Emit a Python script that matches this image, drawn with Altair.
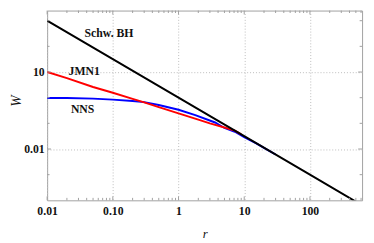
import altair as alt
import pandas as pd
import math

# ---- data ----
r_bh = [0.01, 0.1, 1, 10, 100, 622]
w_bh = [1000, 31.6, 1.0, 0.0316, 0.001, 6.4e-5]

r_jmn = [0.01, 0.02, 0.05, 0.1, 0.2, 0.3, 0.5, 1, 2, 3, 5, 7.2, 9]
w_jmn = [10, 5.8, 2.6, 1.55, 0.90, 0.66, 0.43, 0.245, 0.14, 0.10, 0.069, 0.052, 0.037]

r_nns = [0.01, 0.02, 0.05, 0.1, 0.2, 0.3, 0.5, 1, 1.8, 3.6, 5, 7.2, 10, 15, 20, 30]
w_nns = [0.98, 0.97, 0.92, 0.84, 0.74, 0.67, 0.52, 0.34, 0.21, 0.108, 0.066, 0.047,
         0.029, 0.0168, 0.0111, 0.0061]

label_text = ["Schw. BH", "JMN1", "NNS"]
label_r = [0.0875, 0.0367, 0.0347]
label_w = [316, 10.9, 0.345]

xtick_major = [0.01, 0.1, 1, 10, 100]
xtick_labels = ["0.01", "0.10", "1", "10", "100"]
xtick_minor = [0.02, 0.03, 0.04, 0.05, 0.06, 0.07, 0.08, 0.09,
               0.2, 0.3, 0.4, 0.5, 0.6, 0.7, 0.8, 0.9,
               2, 3, 4, 5, 6, 7, 8, 9,
               20, 30, 40, 50, 60, 70, 80, 90,
               200, 300, 400, 500, 600]
ytick_major = [10, 0.01]
ytick_labels = ["10", "0.01"]
ytick_minor = [1000, 100, 1, 0.1, 0.001]

W, H = 322, 194
xscale = alt.Scale(type="log", domain=[0.01, 622], nice=False)
yscale = alt.Scale(type="log", domain=[1e-4, 2480], nice=False)

FONT = "Liberation Serif"
FRAME = "#a0a0a0"


def label_expr(vals, labs):
    expr = "'%s'" % labs[-1]
    for i in range(len(vals) - 2, -1, -1):
        mid = math.sqrt(vals[i] * vals[i + 1])
        if vals[i] < vals[i + 1]:
            expr = "datum.value < %g ? '%s' : (%s)" % (mid, labs[i], expr)
        else:
            expr = "datum.value > %g ? '%s' : (%s)" % (mid, labs[i], expr)
    return expr


xaxis = alt.Axis(values=xtick_major, labelExpr=label_expr(xtick_major, xtick_labels),
                 grid=True, gridDash=[1, 2], gridColor="#bbbbbb", gridWidth=1,
                 ticks=False, tickSize=0, domain=False,
                 labelFont=FONT, labelFontWeight="bold", labelFontSize=12, labelColor="#111111",
                 labelPadding=5, labelFlush=False,
                 title="r", titleFont=FONT, titleFontStyle="italic", titleFontWeight="normal",
                 titleFontSize=13, titleColor="#111111", titleY=34, titleBaseline="middle")
yaxis = alt.Axis(values=ytick_major, labelExpr=label_expr(ytick_major, ytick_labels),
                 grid=True, gridDash=[1, 2], gridColor="#bbbbbb", gridWidth=1,
                 ticks=False, tickSize=0, domain=False,
                 labelFont=FONT, labelFontWeight="bold", labelFontSize=12, labelColor="#111111",
                 labelPadding=3, labelFlush=False,
                 title="W", titleFont=FONT, titleFontStyle="italic", titleFontWeight="normal",
                 titleFontSize=14, titleColor="#111111", titleAngle=270,
                 titleX=-31, titleY=92, titleAlign="center", titleBaseline="middle")

X = alt.X("r:Q", scale=xscale, axis=xaxis)
Y = alt.Y("W:Q", scale=yscale, axis=yaxis)

df_bh = pd.DataFrame({"r": r_bh, "W": w_bh})
df_jmn = pd.DataFrame({"r": r_jmn, "W": w_jmn})
df_nns = pd.DataFrame({"r": r_nns, "W": w_nns})
df_lab = pd.DataFrame({"r": label_r, "W": label_w, "t": label_text})

layers = []


def xticks(vals, length):
    d = pd.DataFrame({"r": vals})
    bot = alt.Chart(d).mark_rule(color=FRAME, strokeWidth=1).encode(
        x=X, y=alt.value(H), y2=alt.value(H - length))
    top = alt.Chart(d).mark_rule(color=FRAME, strokeWidth=1).encode(
        x=X, y=alt.value(0), y2=alt.value(length))
    return [bot, top]


def yticks(vals, length):
    d = pd.DataFrame({"W": vals})
    left = alt.Chart(d).mark_rule(color=FRAME, strokeWidth=1).encode(
        y=Y, x=alt.value(0), x2=alt.value(length))
    right = alt.Chart(d).mark_rule(color=FRAME, strokeWidth=1).encode(
        y=Y, x=alt.value(W), x2=alt.value(W - length))
    return [left, right]


def line(df, color):
    return alt.Chart(df).mark_line(color=color, strokeWidth=2, clip=True).encode(x=X, y=Y)


layers += [line(df_nns, "#0000ff"), line(df_jmn, "#ff0000"), line(df_bh, "#000000")]
layers += xticks(xtick_major, 4) + xticks(xtick_minor, 2.5)
layers += yticks(ytick_major, 4) + yticks(ytick_minor, 2.5)

layers.append(alt.Chart(df_lab).mark_text(font=FONT, fontWeight="bold", fontSize=12,
                                          color="#111111", align="center", baseline="middle").encode(
    x=X, y=Y, text="t:N"))

chart = alt.layer(*layers).properties(
    width=W, height=H,
    autosize=alt.AutoSizeParams(type="none"),
    padding={"left": 40, "top": 0, "right": 4, "bottom": 41},
    background="white",
).configure_view(stroke=FRAME, strokeWidth=1)

chart.save("out.html", embed_options={"renderer": "svg", "actions": False})
